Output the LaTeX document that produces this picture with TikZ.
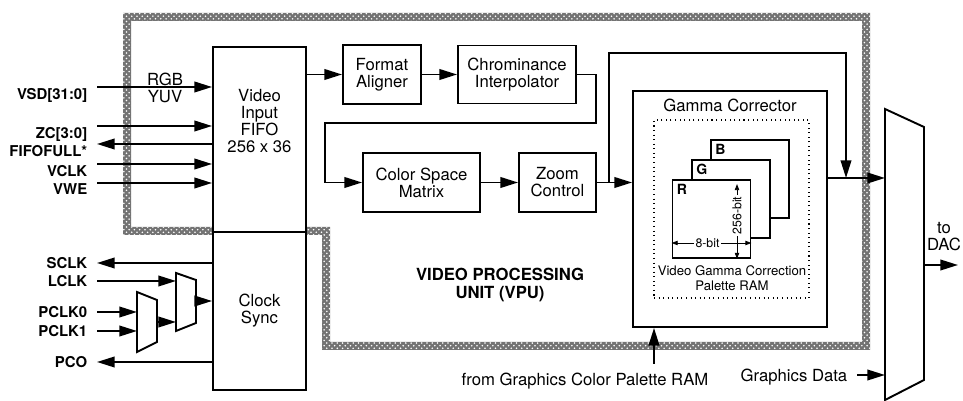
\documentclass[tikz,border=0pt]{standalone}
\usepackage{fontspec}
\setmainfont{TeX Gyre Heros}
\usetikzlibrary{arrows.meta, calc, patterns}

\begin{document}
\begin{tikzpicture}[
        x=0.02cm, y=-0.02cm,
        line width=1.1pt,
        font=\fontsize{9.5}{9.7}\selectfont,
        % Styles for the VPU blocks
        block/.style={
            rectangle, draw, fill=white,
            inner sep=0pt, align=center
        },
        signal/.style={
            inner xsep=5pt, inner ysep=0pt,
            font=\fontsize{8.5}{10}\selectfont\bfseries
        },
        plane/.style={
            rectangle, draw, fill=white,
            minimum width=1.56cm, minimum height=1.56cm
        },
        tag/.style={
            anchor=north west, inner sep=2.5pt,
            font=\fontsize{8}{9}\selectfont\bfseries
        },
        arrow/.style={-{Triangle[length=10pt, width=6pt]}},
        dim/.style={
            line width=0.5pt,
            {Triangle[length=3.5pt, width=2.5pt]}-{Triangle[length=3.5pt, width=2.5pt]}
        }
    ]

    \useasboundingbox (0,0) rectangle (963,401);

    % 1. VPU BOUNDARY (checkered band)
    \fill[black!55, even odd rule]
        (123,13) -- (870,13) -- (870,350) -- (322,350) -- (322,235) -- (123,235) -- cycle
        (131,21) -- (862,21) -- (862,342) -- (330,342) -- (330,227) -- (131,227) -- cycle;
    \fill[pattern=crosshatch dots, pattern color=white, even odd rule]
        (123,13) -- (870,13) -- (870,350) -- (322,350) -- (322,235) -- (123,235) -- cycle
        (131,21) -- (862,21) -- (862,342) -- (330,342) -- (330,227) -- (131,227) -- cycle;

    % 2. VIDEO INPUT FIFO AND CLOCK SYNC
    \node[block, minimum width=1.86cm, minimum height=3.70cm] (FIFO) at (259.5,139.5) {};
    \node[align=center] (FIFOtext) at (259.5,121) {Video\\Input\\FIFO\\256 x 36};
    \node[block, minimum width=1.86cm, minimum height=3.16cm] (Sync) at (259.5,311) {Clock\\Sync};

    % 3. VIDEO INPUTS
    \node[signal, anchor=north east] (VSD)   at (97,87)  {VSD[31:0]};
    \node[signal, anchor=north east] (ZC)    at (97,126) {ZC[3:0]};
    \node[signal, anchor=north east] (FFULL) at (97,144) {FIFOFULL*};
    \node[signal, anchor=north east] (VCLK)  at (97,164) {VCLK};
    \node[signal, anchor=north east] (VWE)   at (97,183) {VWE};

    \draw[arrow] (VSD.north east) -- (VSD.north east -| FIFO.west);
    \draw[arrow] (ZC.north east) -- (ZC.north east -| FIFO.west);
    \draw[arrow] (FIFO.west |- FFULL.north east) -- (FFULL.north east);
    \draw[arrow] (VCLK.north east) -- (VCLK.north east -| FIFO.west);
    \draw[arrow] (VWE.north east) -- (VWE.north east -| FIFO.west);

    \node (RGB) at (165,79) {RGB};
    \node (YUV) at (165,97) {YUV};

    % 4. CLOCK SIGNALS AND MULTIPLEXERS
    \draw[fill=white] (137,292) -- (157,300) -- (157,342) -- (137,352) -- cycle;
    \draw[fill=white] (176,273) -- (196,280) -- (196,323) -- (176,331) -- cycle;
    \coordinate (mux1 in0) at (137,312);
    \coordinate (mux1 in1) at (137,331);
    \coordinate (mux1 out) at (157,322);
    \coordinate (mux2 in0) at (176,281);
    \coordinate (mux2 in1) at (176,322);
    \coordinate (mux2 out) at (196,301);

    \node[signal, anchor=east] (SCLK)  at (97,263) {SCLK};
    \node[signal, anchor=east] (LCLK)  at (97,281) {LCLK};
    \node[signal, anchor=east] (PCLK0) at (97,312) {PCLK0};
    \node[signal, anchor=east] (PCLK1) at (97,331) {PCLK1};
    \node[signal, anchor=east] (PCO)   at (97,362) {PCO};

    \draw[arrow] (Sync.west |- SCLK.east) -- (SCLK.east);
    \draw[arrow] (LCLK.east) -- (mux2 in0);
    \draw[arrow] (PCLK0.east) -- (mux1 in0);
    \draw[arrow] (PCLK1.east) -- (mux1 in1);
    \draw[arrow] (mux1 out) -- (mux2 in1);
    \draw[arrow] (mux2 out) -- (mux2 out -| Sync.west);
    \draw[arrow] (Sync.west |- PCO.east) -- (PCO.east);

    % 5. PIXEL PIPELINE
    \node[block, minimum width=1.56cm, minimum height=1.18cm] (Format) at (382,74.5) {Format\\Aligner};
    \node[block, minimum width=2.36cm, minimum height=1.16cm] (Chroma) at (517,74.5) {Chrominance\\Interpolator};
    \node[block, minimum width=2.34cm, minimum height=1.18cm] (CSM) at (421.5,182.5) {Color Space\\Matrix};
    \node[block, minimum width=1.54cm, minimum height=1.18cm] (Zoom) at (557.5,182.5) {Zoom\\Control};

    \draw[arrow] (FIFO.east |- Format.west) -- (Format.west);
    \draw[arrow] (Format.east) -- (Chroma.west);
    \coordinate (wrap) at (325,123);
    \draw[arrow] (Chroma.east) -- ++(19,0) |- (wrap) |- (CSM.west);
    \draw[arrow] (CSM.east) -- (Zoom.west);

    % 6. GAMMA CORRECTOR
    \node[block, minimum width=3.88cm, minimum height=4.72cm] (Gamma) at (730,209) {};
    \node (GammaTitle) at (730,105) {Gamma Corrector};
    \node[draw, line width=0.6pt, dotted, minimum width=3.1cm, minimum height=3.56cm] (Palette) at (731.5,209) {};
    \node[plane] (B) at (750,179) {};
    \node[plane] (G) at (731,199) {};
    \node[plane] (R) at (711.5,219) {};
    \node[tag] (Btag) at (B.north west) {B};
    \node[tag] (Gtag) at (G.north west) {G};
    \node[tag] (Rtag) at (R.north west) {R};

    \draw[dim] (R.west |- 0,243) -- node[pos=0.45, fill=white, inner sep=1pt, font=\fontsize{7}{8}\selectfont] (Width) {8-bit} (R.east |- 0,243);
    \draw[dim] (737,184) -- node[pos=0.42, fill=white, inner sep=1pt, rotate=90, font=\fontsize{7}{8}\selectfont] (Depth) {256-bit} (R.south -| 737,0);

    \node[align=center, font=\fontsize{7.5}{8.5}\selectfont] (PalText) at (732,278) {Video Gamma Correction\\Palette RAM};

    % 7. BYPASS AND OUTPUT MUX
    \coordinate (split) at (609,182.5);
    \coordinate (over)  at (846,53);
    \coordinate (merge) at (846,178);
    \draw[arrow] (Zoom.east) -- (Zoom.east -| Gamma.west);
    \draw[arrow] (split) |- (over) -- (merge);

    \draw[fill=white] (885,109) -- (924,127) -- (924,380) -- (885,400) -- cycle;
    \coordinate (outmux in0) at (885,178);
    \coordinate (outmux in1) at (885,375);
    \coordinate (outmux out) at (924,265);
    \coordinate (dac) at (958,265);

    \draw[arrow] (Gamma.east |- merge) -- (outmux in0);
    \node[signal, anchor=east, font=\fontsize{9.5}{10}\selectfont] (GData) at (857,377) {Graphics Data};
    \draw[arrow] (GData.east |- outmux in1) -- (outmux in1);
    \draw[arrow] (outmux out) -- (dac);
    \node[align=center] (DAC) at (944,237) {to\\DAC};

    % 8. GRAPHICS PALETTE INPUT
    \node (GCP) at (585,381) {from Graphics Color Palette RAM};
    \coordinate (gcp) at (654,364);
    \draw[arrow] (gcp) -- (gcp |- Gamma.south);

    % 9. VPU LABEL
    \node[align=center, font=\fontsize{9.5}{10.2}\selectfont\bfseries] (VPU) at (500,285) {VIDEO PROCESSING\\UNIT (VPU)};

\end{tikzpicture}
\end{document}
